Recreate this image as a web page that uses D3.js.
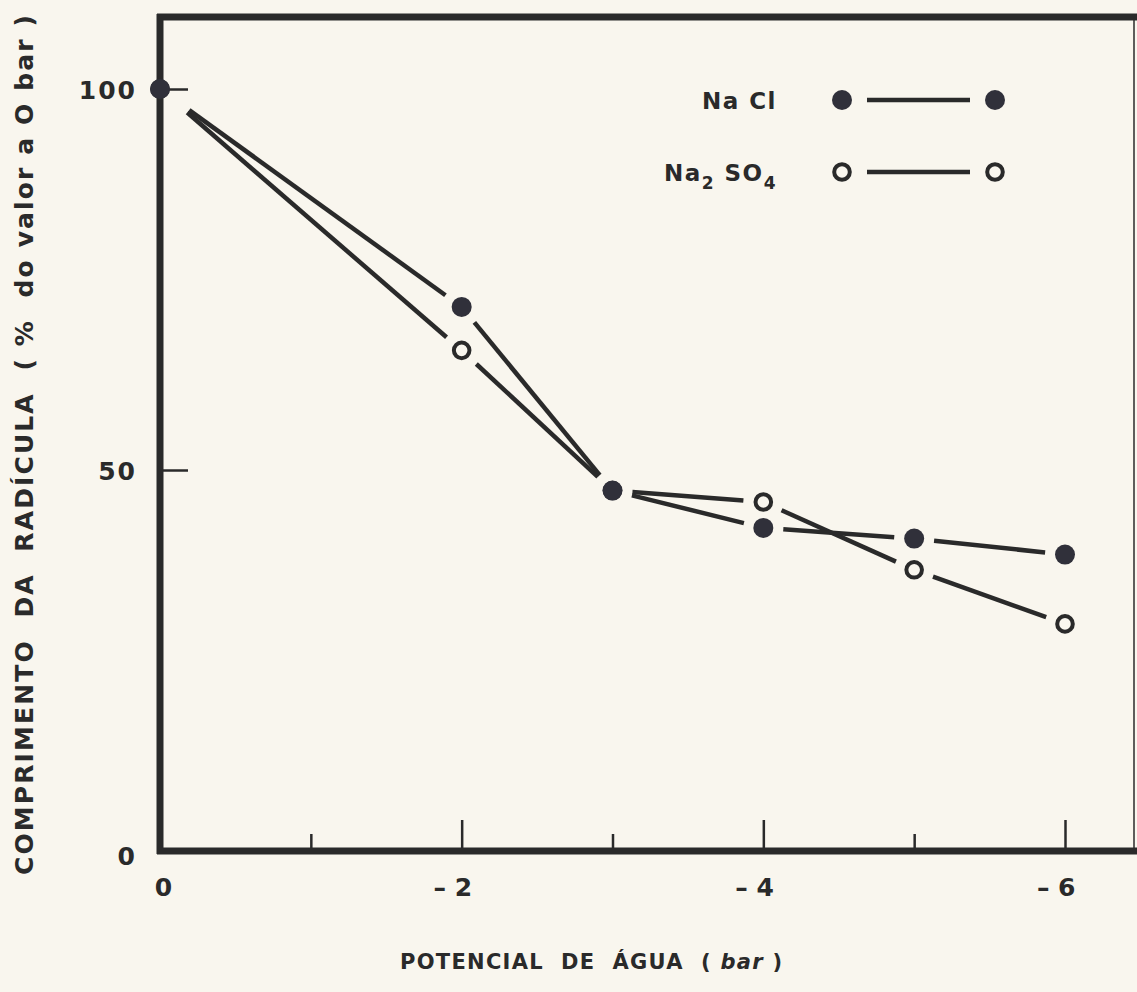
<!DOCTYPE html>
<html>
<head>
<meta charset="utf-8">
<script src="https://cdn.jsdelivr.net/npm/d3@7"></script>
<style>
  body { margin: 0; background: #f9f6ee; }
  svg { display: block; }
  text { font-family: "DejaVu Sans", sans-serif; font-weight: bold; fill: #2a2a2a; }
</style>
</head>
<body>
<div id="chart"></div>
<script>
// values (% of the 0 bar value)
const potentials = [0, -2, -3, -4, -5, -6];
const naclValues = [100, 71.4, 47.3, 42.4, 41.0, 38.9];
const na2so4Values = [100, 65.7, 47.3, 45.8, 36.9, 29.8];

const majorTicks = [-2, -4, -6];
const minorTicks = [-1, -3, -5];
const xLabels = [0, -2, -4, -6];
const yTicks = [0, 50, 100];

const W = 1137, H = 992;
const ink = "#2a2a2a";

const series = [
  { key: "na2so4", values: na2so4Values, filled: false },
  { key: "nacl", values: naclValues, filled: true }
];

const x = d3.scaleLinear().domain([0, -6]).range([160, 1065]);
const y = d3.scaleLinear().domain([0, 100]).range([851, 89]);
const xEnd = x.invert(1134), yTop = y.invert(17);

const svg = d3.select("#chart")
  .append("svg")
  .attr("width", W)
  .attr("height", H);

svg.append("rect")
  .attr("width", W)
  .attr("height", H)
  .attr("fill", "#f9f6ee");

// frame
svg.append("line")
  .attr("x1", x(0) - 3).attr("x2", W)
  .attr("y1", y(yTop)).attr("y2", y(yTop))
  .attr("stroke", ink).attr("stroke-width", 7);

svg.append("line")
  .attr("x1", x(xEnd)).attr("x2", x(xEnd))
  .attr("y1", y(yTop)).attr("y2", y(0))
  .attr("stroke", ink).attr("stroke-width", 1.5);

// tick marks on the bottom axis
[[majorTicks, 31], [minorTicks, 17]].forEach(([vals, len]) => {
  svg.append("g")
    .attr("transform", `translate(0, ${y(0)})`)
    .call(d3.axisTop(x).tickValues(vals).tickSize(len).tickFormat(""))
    .call(g => g.select(".domain").remove())
    .selectAll("line")
    .attr("stroke", ink)
    .attr("stroke-width", 2.5);
});

// y axis ticks + labels
const yAxis = svg.append("g")
  .attr("transform", `translate(${x(0)}, 0)`)
  .call(d3.axisLeft(y).tickValues(yTicks).tickSize(-28).tickPadding(23).tickFormat(d3.format("d")))
  .call(g => g.select(".domain").remove());

yAxis.selectAll("line")
  .attr("stroke", ink)
  .attr("stroke-width", 2.5);

yAxis.selectAll("text")
  .attr("font-family", null)
  .attr("fill", ink)
  .style("font-size", "25px")
  .style("letter-spacing", "2px")
  .attr("dy", d => d === 0 ? "0.55em" : "0.36em");

// x labels
const xAxis = svg.append("g")
  .attr("transform", `translate(0, ${y(0)})`)
  .call(d3.axisBottom(x).tickValues(xLabels).tickSize(0).tickPadding(27)
    .tickFormat(d => d === 0 ? "0" : "\u2013 " + (-d)))
  .call(g => g.select(".domain").remove());

xAxis.selectAll("text")
  .attr("font-family", null)
  .attr("fill", ink)
  .style("font-size", "25px")
  .style("white-space", "pre")
  .attr("text-anchor", d => d === 0 ? "middle" : "end")
  .attr("x", d => d === 0 ? 3 : 10);

// left and bottom axis lines
svg.append("line")
  .attr("x1", x(0)).attr("x2", x(0))
  .attr("y1", y(yTop) - 3).attr("y2", y(0) + 3)
  .attr("stroke", ink).attr("stroke-width", 7);

svg.append("line")
  .attr("x1", x(0) - 3).attr("x2", W)
  .attr("y1", y(0)).attr("y2", y(0))
  .attr("stroke", ink).attr("stroke-width", 7);

// lines drawn with gaps around the markers
const gap = 20, firstGap = 36;
const seg = d3.line();

series.forEach(s => {
  const pts = potentials.map((p, i) => [x(p), y(s.values[i])]);
  for (let i = 0; i < pts.length - 1; i++) {
    const [x0, y0] = pts[i], [x1, y1] = pts[i + 1];
    const len = Math.hypot(x1 - x0, y1 - y0);
    const ux = (x1 - x0) / len, uy = (y1 - y0) / len;
    const g0 = i === 0 ? firstGap : gap;
    svg.append("path")
      .attr("d", seg([[x0 + ux * g0, y0 + uy * g0], [x1 - ux * gap, y1 - uy * gap]]))
      .attr("fill", "none")
      .attr("stroke", ink)
      .attr("stroke-width", 4.5);
  }
});

// markers
function marker(sel, filled, r) {
  sel.attr("r", filled ? r : r - 2.2)
    .attr("fill", filled ? "#30303a" : "none")
    .attr("stroke", filled ? "none" : ink)
    .attr("stroke-width", filled ? 0 : 4);
}

series.forEach(s => {
  svg.append("g")
    .selectAll("circle")
    .data(potentials.map((p, i) => ({ p, v: s.values[i] })))
    .enter()
    .append("circle")
    .attr("cx", d => x(d.p))
    .attr("cy", d => y(d.v))
    .call(marker, s.filled, 10);
});

// legend
const legendRows = [
  { label: "nacl", filled: true, yPos: 100 },
  { label: "na2so4", filled: false, yPos: 172 }
];

legendRows.forEach(row => {
  const g = svg.append("g").attr("transform", `translate(0, ${row.yPos})`);
  const t = g.append("text")
    .attr("x", 777)
    .attr("y", 9)
    .attr("text-anchor", "end")
    .style("font-size", "23px")
    .style("letter-spacing", "1.5px");
  if (row.label === "nacl") {
    t.text("Na Cl");
  } else {
    t.append("tspan").text("Na");
    t.append("tspan").attr("dy", 8).style("font-size", "17px").text("2");
    t.append("tspan").attr("dy", -8).text(" SO");
    t.append("tspan").attr("dy", 8).style("font-size", "17px").text("4");
  }
  g.append("line")
    .attr("x1", 867).attr("x2", 970)
    .attr("stroke", ink).attr("stroke-width", 4.5);
  g.selectAll("circle")
    .data([842, 995])
    .enter()
    .append("circle")
    .attr("cx", d => d)
    .attr("cy", 0)
    .call(marker, row.filled, 10);
});

// axis titles
svg.append("text")
  .attr("transform", "translate(33, 445) rotate(-90)")
  .attr("text-anchor", "middle")
  .attr("textLength", 860)
  .attr("lengthAdjust", "spacing")
  .style("font-size", "25px")
  .style("white-space", "pre")
  .text("COMPRIMENTO  DA  RADÍCULA  ( %  do valor a O bar )");

const xt = svg.append("text")
  .attr("x", 400)
  .attr("y", 969)
  .attr("textLength", 382)
  .attr("lengthAdjust", "spacing")
  .style("font-size", "21px")
  .style("white-space", "pre");
xt.append("tspan").text("POTENCIAL  DE  ÁGUA  ( ");
xt.append("tspan").style("font-style", "italic").text("bar");
xt.append("tspan").text(" )");
</script>
</body>
</html>
